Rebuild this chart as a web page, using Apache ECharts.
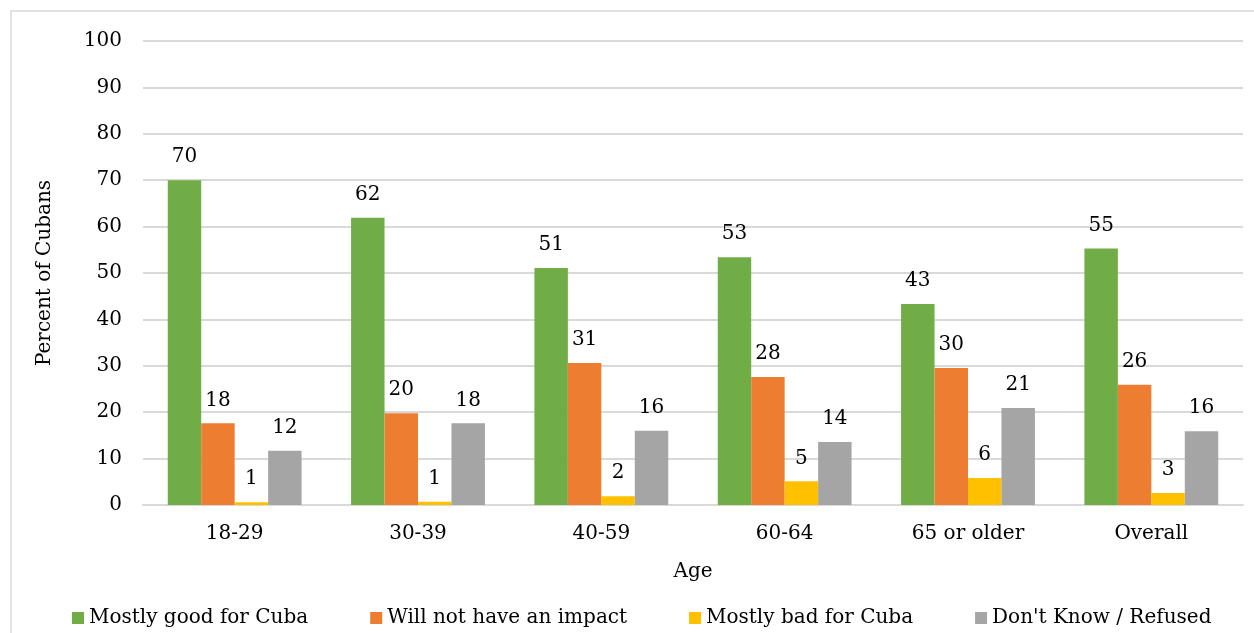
<!DOCTYPE html>
<html>
<head>
<meta charset="utf-8">
<script src="https://cdn.jsdelivr.net/npm/echarts@6/dist/echarts.min.js"></script>
<style>
html,body{margin:0;padding:0;background:#fff;}
#chart{width:1254px;height:633px;}
</style>
</head>
<body>
<div id="chart"></div>
<script>
const categories = ['18-29', '30-39', '40-59', '60-64', '65 or older', 'Overall'];
const seriesNames = ['Mostly good for Cuba', 'Will not have an impact', 'Mostly bad for Cuba', "Don't Know / Refused"];
const goodValues = [70.0, 61.9, 51.1, 53.4, 43.3, 55.3];
const noImpactValues = [17.6, 19.8, 30.6, 27.6, 29.5, 25.9];
const badValues = [0.6, 0.7, 1.9, 5.1, 5.8, 2.6];
const dontKnowValues = [11.7, 17.6, 16.0, 13.6, 20.9, 15.9];
const yTicks = [0, 10, 20, 30, 40, 50, 60, 70, 80, 90, 100];
const colors = ['#70ad47', '#ed7d31', '#ffc000', '#a5a5a5'];

const FONT = 'DejaVu Serif';
const chart = echarts.init(document.getElementById('chart'));
const allValues = [goodValues, noImpactValues, badValues, dontKnowValues];

chart.setOption({
  animation: false,
  textStyle: { fontFamily: FONT, color: '#000' },
  graphic: [{
    type: 'rect', shape: { x: 11, y: 11, width: 1260, height: 640 },
    style: { fill: 'none', stroke: '#d9d9d9', lineWidth: 1.5 }, silent: true
  }],
  grid: { left: 143, right: 11, top: 41, bottom: 128 },
  legend: {
    bottom: 0, left: 67, itemWidth: 12, itemHeight: 12, itemGap: 62,
    icon: 'rect',
    textStyle: { fontFamily: FONT, fontSize: 20, color: '#000' },
    data: seriesNames
  },
  xAxis: {
    type: 'category', data: categories,
    name: 'Age', nameLocation: 'middle', nameGap: 57,
    nameTextStyle: { fontFamily: FONT, fontSize: 20, color: '#000' },
    axisLine: { lineStyle: { color: '#d9d9d9', width: 2 } },
    axisTick: { show: false },
    axisLabel: { fontFamily: FONT, fontSize: 20, color: '#000', margin: 19 }
  },
  yAxis: {
    type: 'value', min: yTicks[0], max: yTicks[yTicks.length - 1], interval: 10,
    name: 'Percent of Cubans', nameLocation: 'middle', nameGap: 88,
    nameTextStyle: { fontFamily: FONT, fontSize: 20, color: '#000' },
    axisLine: { show: false }, axisTick: { show: false },
    splitLine: { lineStyle: { color: '#d9d9d9', width: 2 } },
    axisLabel: { fontFamily: FONT, fontSize: 20, color: '#000', margin: 21 }
  },
  series: seriesNames.map((name, i) => ({
    name, type: 'bar', data: allValues[i],
    barGap: '0%', barCategoryGap: '27%',
    itemStyle: { color: colors[i] },
    label: {
      show: true, position: 'top', distance: 13,
      fontFamily: FONT, fontSize: 20, color: '#000',
      formatter: p => Math.round(p.value)
    }
  }))
});
</script>
</body>
</html>
